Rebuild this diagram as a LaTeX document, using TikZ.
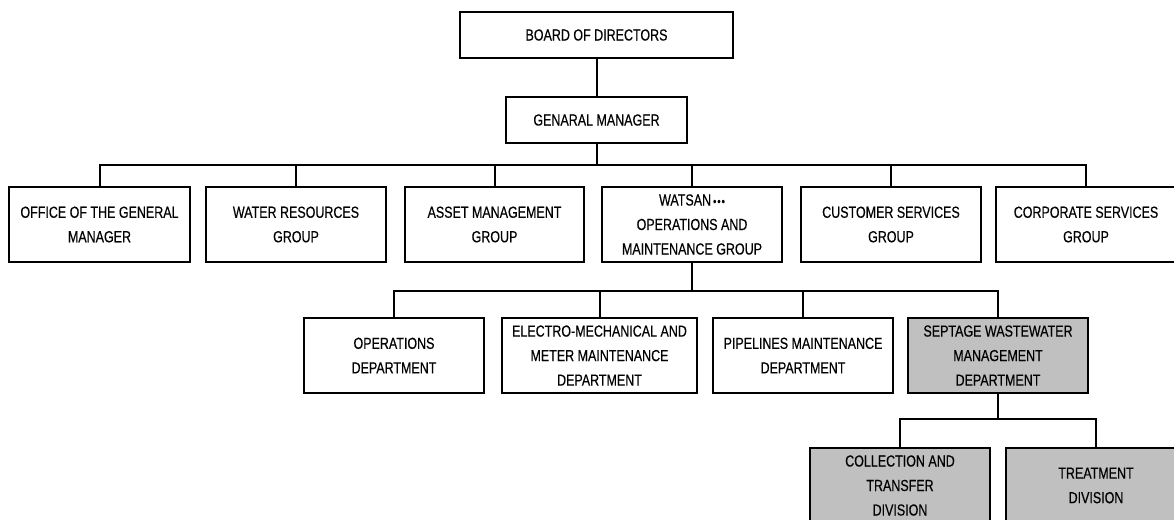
\documentclass[tikz,border=0pt]{standalone}
\usepackage{fontspec}
\setmainfont{Liberation Sans}[FakeStretch=0.78,FakeBold=0.4]
\definecolor{boxgray}{HTML}{C0C0C0}
\newcommand{\wdots}{{\fontsize{12}{12}\selectfont\kern2pt•\kern1pt•\kern1pt•}}
\begin{document}
\begin{tikzpicture}[x=1pt,y=-1pt,
  orgbox/.style={draw=black,line width=1.3pt,rectangle,align=center,inner sep=0pt,
    minimum width=180pt,minimum height=75pt,font=\fontsize{16}{24.5}\selectfont},
  topbox/.style={orgbox,minimum height=46pt},
  shaded/.style={fill=boxgray},
  link/.style={draw=black,line width=2pt}]
\useasboundingbox (0,0) rectangle (1174,519);
\clip (0,0) rectangle (1174,519);
% top
\node[topbox,minimum width=273pt] (board) at (596.5,35) {BOARD OF DIRECTORS};
\node[topbox,minimum width=181pt] (gm) at (596.5,120) {GENARAL MANAGER};
% row 1
\node[orgbox,minimum width=181pt] (ogm) at (99.5,224.5) {OFFICE OF THE GENERAL\\MANAGER};
\node[orgbox] (wrg) at (296,224.5) {WATER RESOURCES\\GROUP};
\node[orgbox,minimum width=179pt] (amg) at (494.5,224.5) {ASSET MANAGEMENT\\GROUP};
\node[orgbox] (wat) at (692,224.5) {WATSAN\wdots\\OPERATIONS AND\\MAINTENANCE GROUP};
\node[orgbox] (csg) at (891,224.5) {CUSTOMER SERVICES\\GROUP};
\node[orgbox] (cpg) at (1086,224.5) {CORPORATE SERVICES\\GROUP};
% row 2
\node[orgbox] (ops) at (394,355.5) {OPERATIONS\\DEPARTMENT};
\node[orgbox,minimum width=195pt] (emm) at (599.5,355.5) {ELECTRO-MECHANICAL AND\\METER MAINTENANCE\\DEPARTMENT};
\node[orgbox] (pmd) at (803,355.5) {PIPELINES MAINTENANCE\\DEPARTMENT};
\node[orgbox,shaded] (swm) at (998,355.5) {SEPTAGE WASTEWATER\\MANAGEMENT\\DEPARTMENT};
% row 3
\node[orgbox,shaded] (ctd) at (900,485.5) {COLLECTION AND\\TRANSFER\\DIVISION};
\node[orgbox,shaded] (trd) at (1096,485.5) {TREATMENT\\DIVISION};
% bus coordinates
\coordinate (bus1) at (596.5,165);
\coordinate (bus2) at (692,291);
\coordinate (bus3) at (998,419);
% connectors
\draw[link] (board.south) -- (gm.north);
\draw[link] (gm.south) -- (bus1);
\draw[link] (ogm.north) |- (bus1) -| (cpg.north);
\foreach \n in {wrg,amg,wat,csg} \draw[link] (\n.north) -- (\n.north |- bus1);
\draw[link] (wat.south) -- (bus2);
\draw[link] (ops.north) |- (bus2) -| (swm.north);
\foreach \n in {emm,pmd} \draw[link] (\n.north) -- (\n.north |- bus2);
\draw[link] (swm.south) -- (bus3);
\draw[link] (ctd.north) |- (bus3) -| (trd.north);
\end{tikzpicture}
\end{document}
